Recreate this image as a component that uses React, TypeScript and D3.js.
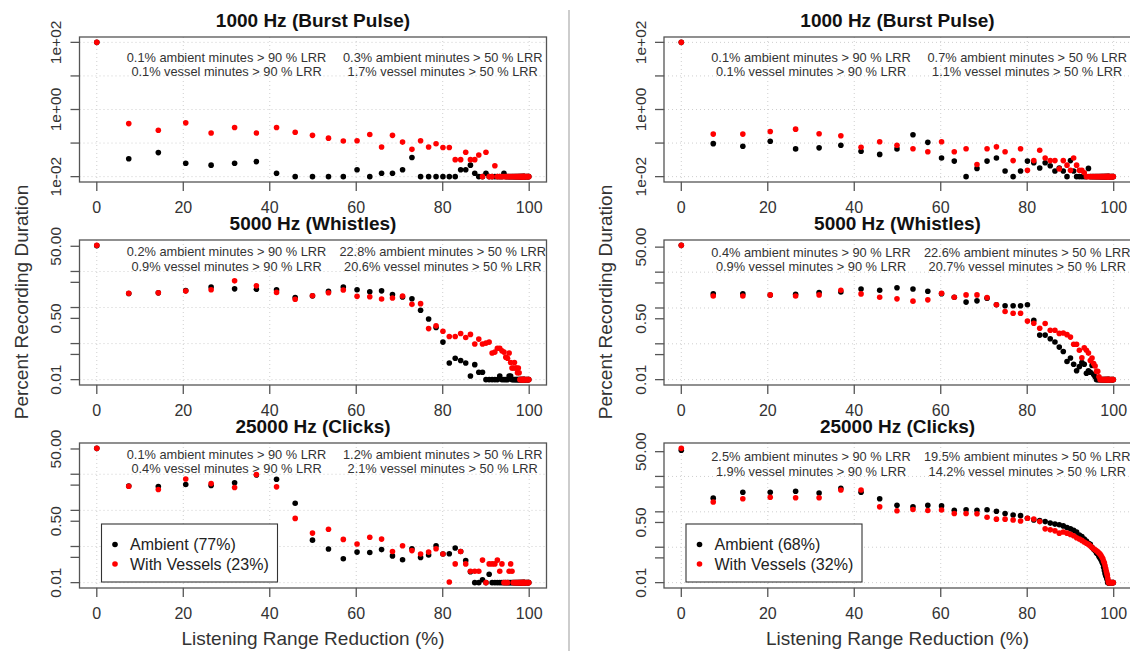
import React from "react";
import * as d3 from "d3";

// LRR bins (%), shared by every series
const lrrBins = [
  0, 7.39, 14.23, 20.57, 26.44, 31.87, 36.9, 41.57, 45.88, 49.88,
  53.58, 57.01, 60.19, 63.13, 65.86, 68.38, 70.71, 72.88, 74.88, 76.74,
  78.46, 80.05, 81.52, 82.89, 84.15, 85.32, 86.41, 87.41, 88.34, 89.2,
  90.0, 90.74, 91.42, 92.06, 92.64, 93.19, 93.69, 94.16, 94.59, 94.99,
  95.36, 95.7, 96.02, 96.31, 96.59, 96.84, 97.07, 97.29, 97.49, 97.67,
  97.85, 98.0, 98.15, 98.29, 98.42, 98.53, 98.64, 98.74, 98.83, 98.92,
  99.0, 99.32, 99.54, 99.78, 99.9,
];

// Left column, 1000 Hz
const burstAmbL = [
  100, 0.034, 0.052, 0.025, 0.022, 0.025, 0.028, 0.0126, 0.01, 0.01,
  0.01, 0.01, 0.016, 0.01, 0.0126, 0.0126, 0.016, 0.037, 0.01, 0.01,
  0.01, 0.01, 0.01, 0.01, 0.016, 0.016, 0.022, 0.0126, 0.01, 0.01,
  0.0126, 0.01, 0.01, 0.01, 0.01, 0.01, 0.01, 0.0126, 0.01, 0.01,
  0.01, 0.01, 0.01, 0.01, 0.01, 0.01, 0.01, 0.01, 0.01, 0.01,
  0.01, 0.01, 0.01, 0.01, 0.01, 0.01, 0.01, 0.01, 0.01, 0.01,
  0.01, 0.01, 0.01, 0.01, 0.01,
];
const burstVesL = [
  100, 0.38, 0.24, 0.4, 0.2, 0.29, 0.2, 0.29, 0.21, 0.17,
  0.14, 0.115, 0.117, 0.18, 0.076, 0.17, 0.107, 0.065, 0.117, 0.076,
  0.095, 0.074, 0.074, 0.032, 0.032, 0.053, 0.032, 0.032, 0.044, 0.01,
  0.053, 0.01, 0.01, 0.021, 0.01, 0.01, 0.01, 0.01, 0.01, 0.01,
  0.01, 0.01, 0.01, 0.01, 0.01, 0.01, 0.01, 0.01, 0.01, 0.01,
  0.01, 0.01, 0.01, 0.01, 0.01, 0.01, 0.01, 0.01, 0.01, 0.01,
  0.01, 0.01, 0.01, 0.01, 0.01,
];
// Left column, 5000 Hz
const whAmbL = [
  52, 2.45, 2.55, 2.95, 3.7, 3.3, 3.2, 3.1, 1.9, 2.1,
  2.8, 3.7, 3.1, 2.75, 2.9, 2.3, 1.96, 1.76, 0.84, 0.48,
  0.28, 0.11, 0.029, 0.039, 0.034, 0.029, 0.0126, 0.026, 0.016, 0.016,
  0.01, 0.01, 0.01, 0.01, 0.01, 0.0126, 0.01, 0.01, 0.01, 0.01,
  0.0126, 0.0126, 0.01, 0.01, 0.01, 0.01, 0.01, 0.01, 0.01, 0.01,
  0.01, 0.01, 0.01, 0.01, 0.01, 0.01, 0.01, 0.01, 0.01, 0.01,
  0.01, 0.01, 0.01, 0.01, 0.01,
];
const whVesL = [
  53, 2.47, 2.58, 2.86, 3.12, 5.5, 4.0, 2.63, 1.69, 2.13,
  2.58, 3.05, 2.04, 2.0, 1.72, 1.84, 2.08, 1.23, 1.28, 0.26,
  0.31, 0.22, 0.157, 0.157, 0.19, 0.148, 0.18, 0.097, 0.133, 0.097,
  0.103, 0.11, 0.055, 0.058, 0.074, 0.074, 0.063, 0.058, 0.042, 0.039,
  0.055, 0.03, 0.021, 0.021, 0.03, 0.021, 0.021, 0.0155, 0.021, 0.0155,
  0.01, 0.01, 0.01, 0.01, 0.01, 0.01, 0.01, 0.01, 0.01, 0.01,
  0.01, 0.01, 0.01, 0.01, 0.01,
];
// Left column, 25000 Hz
const clAmbL = [
  52, 4.7, 4.56, 5.2, 4.9, 5.8, 9.5, 7.3, 1.58, 0.15,
  0.085, 0.046, 0.07, 0.068, 0.082, 0.055, 0.043, 0.087, 0.05, 0.058,
  0.105, 0.062, 0.063, 0.091, 0.073, 0.041, 0.02, 0.01, 0.01, 0.012,
  0.01, 0.017, 0.01, 0.01, 0.01, 0.01, 0.01, 0.01, 0.01, 0.01,
  0.01, 0.01, 0.01, 0.01, 0.01, 0.01, 0.01, 0.01, 0.01, 0.01,
  0.01, 0.01, 0.01, 0.01, 0.01, 0.01, 0.01, 0.01, 0.01, 0.01,
  0.01, 0.01, 0.01, 0.01, 0.01,
];
const clVesL = [
  52, 4.66, 3.78, 7.4, 5.5, 4.3, 9.8, 4.47, 0.6, 0.235,
  0.3, 0.157, 0.117, 0.18, 0.16, 0.073, 0.105, 0.077, 0.062, 0.07,
  0.087, 0.062, 0.0104, 0.033, 0.073, 0.033, 0.0206, 0.0206, 0.0206, 0.042,
  0.01, 0.033, 0.033, 0.033, 0.042, 0.0206, 0.033, 0.01, 0.01, 0.01,
  0.0206, 0.033, 0.0206, 0.01, 0.01, 0.01, 0.01, 0.01, 0.01, 0.01,
  0.01, 0.01, 0.01, 0.01, 0.01, 0.01, 0.01, 0.01, 0.01, 0.01,
  0.01, 0.01, 0.01, 0.01, 0.01,
];
// Right column, 1000 Hz
const burstAmbR = [
  100, 0.096, 0.08, 0.113, 0.067, 0.072, 0.086, 0.057, 0.046, 0.067,
  0.177, 0.105, 0.036, 0.029, 0.01, 0.0176, 0.029, 0.036, 0.0147, 0.01,
  0.0147, 0.029, 0.026, 0.018, 0.026, 0.021, 0.0147, 0.018, 0.0147, 0.01,
  0.03, 0.0147, 0.01, 0.01, 0.01, 0.01, 0.01, 0.0176, 0.01, 0.01,
  0.01, 0.01, 0.01, 0.01, 0.01, 0.01, 0.01, 0.01, 0.01, 0.01,
  0.01, 0.01, 0.01, 0.01, 0.01, 0.01, 0.01, 0.01, 0.01, 0.01,
  0.01, 0.01, 0.01, 0.01, 0.01,
];
const burstVesR = [
  100, 0.185, 0.185, 0.22, 0.26, 0.19, 0.166, 0.075, 0.11, 0.086,
  0.068, 0.055, 0.11, 0.055, 0.068, 0.023, 0.068, 0.077, 0.055, 0.03,
  0.068, 0.0154, 0.03, 0.061, 0.036, 0.03, 0.03, 0.017, 0.03, 0.022,
  0.0154, 0.036, 0.022, 0.0154, 0.0154, 0.013, 0.01, 0.01, 0.01, 0.01,
  0.01, 0.01, 0.01, 0.01, 0.01, 0.01, 0.01, 0.01, 0.01, 0.01,
  0.01, 0.01, 0.01, 0.01, 0.01, 0.01, 0.01, 0.01, 0.01, 0.01,
  0.01, 0.01, 0.01, 0.01, 0.01,
];
// Right column, 5000 Hz
const whAmbR = [
  56, 2.47, 2.47, 2.3, 2.4, 2.69, 2.8, 3.39, 3.12, 3.69,
  3.39, 2.93, 2.5, 2.0, 1.46, 1.58, 1.87, 1.23, 1.15, 1.15,
  1.15, 1.23, 0.45, 0.175, 0.175, 0.139, 0.112, 0.081, 0.061, 0.032,
  0.04, 0.027, 0.0177, 0.023, 0.03, 0.027, 0.015, 0.0177, 0.016, 0.025,
  0.014, 0.012, 0.01, 0.01, 0.01, 0.01, 0.01, 0.01, 0.01, 0.01,
  0.01, 0.01, 0.01, 0.01, 0.01, 0.01, 0.01, 0.01, 0.01, 0.01,
  0.01, 0.01, 0.01, 0.01, 0.01,
];
const whVesR = [
  56, 2.17, 2.17, 2.32, 2.17, 2.32, 3.12, 2.47, 2.0, 1.8,
  1.55, 1.69, 2.58, 2.0, 2.32, 2.32, 1.95, 1.23, 0.8, 0.71,
  0.71, 0.43, 0.375, 0.273, 0.37, 0.24, 0.24, 0.195, 0.2, 0.18,
  0.154, 0.097, 0.097, 0.066, 0.041, 0.078, 0.066, 0.055, 0.034, 0.04,
  0.028, 0.024, 0.017, 0.017, 0.012, 0.01, 0.01, 0.01, 0.01, 0.01,
  0.01, 0.01, 0.01, 0.01, 0.01, 0.01, 0.01, 0.01, 0.01, 0.01,
  0.01, 0.01, 0.01, 0.01, 0.01,
];
// Right column, 25000 Hz
const clAmbR = [
  55, 2.43, 3.56, 3.56, 3.8, 3.4, 4.59, 3.56, 2.33, 1.53,
  1.38, 1.53, 1.47, 1.11, 1.15, 1.11, 1.15, 1.04, 0.9, 0.81,
  0.78, 0.66, 0.59, 0.57, 0.53, 0.48, 0.45, 0.43, 0.4, 0.36,
  0.33, 0.3, 0.27, 0.22, 0.2, 0.17, 0.15, 0.13, 0.12, 0.1,
  0.088, 0.079, 0.069, 0.064, 0.055, 0.05, 0.044, 0.038, 0.034, 0.027,
  0.022, 0.018, 0.016, 0.0146, 0.013, 0.0118, 0.01, 0.01, 0.01, 0.01,
  0.01, 0.01, 0.01, 0.01, 0.01,
];
const clVesR = [
  62, 1.89, 2.33, 2.59, 2.49, 2.49, 4.13, 4.13, 1.38, 1.07,
  1.16, 1.09, 1.13, 0.9, 0.9, 0.88, 0.7, 0.62, 0.62, 0.59,
  0.55, 0.66, 0.63, 0.53, 0.33, 0.31, 0.29, 0.25, 0.27, 0.25,
  0.23, 0.21, 0.185, 0.17, 0.156, 0.14, 0.13, 0.12, 0.109, 0.098,
  0.09, 0.085, 0.079, 0.074, 0.069, 0.064, 0.058, 0.052, 0.047, 0.04,
  0.036, 0.03, 0.025, 0.021, 0.018, 0.016, 0.013, 0.011, 0.01, 0.01,
  0.01, 0.01, 0.01, 0.01, 0.01,
];

const xTicks = [0, 20, 40, 60, 80, 100];
const burstTicks = [0.01, 0.1, 1, 10, 100];
const burstTickLabels = ["1e-02", "", "1e+00", "", "1e+02"];
const otherTicks = [0.01, 0.05, 0.1, 0.5, 1, 5, 10, 50];
const otherTickLabels = ["0.01", "", "", "0.50", "", "", "", "50.00"];

const titles = ["1000 Hz (Burst Pulse)", "5000 Hz (Whistles)", "25000 Hz (Clicks)"];

const notesBurstL = ["0.1% ambient minutes > 90 % LRR", "0.1% vessel minutes > 90 % LRR", "0.3% ambient minutes > 50 % LRR", "1.7% vessel minutes > 50 % LRR"];
const notesWhL = ["0.2% ambient minutes > 90 % LRR", "0.9% vessel minutes > 90 % LRR", "22.8% ambient minutes > 50 % LRR", "20.6% vessel minutes > 50 % LRR"];
const notesClL = ["0.1% ambient minutes > 90 % LRR", "0.4% vessel minutes > 90 % LRR", "1.2% ambient minutes > 50 % LRR", "2.1% vessel minutes > 50 % LRR"];
const notesBurstR = ["0.1% ambient minutes > 90 % LRR", "0.1% vessel minutes > 90 % LRR", "0.7% ambient minutes > 50 % LRR", "1.1% vessel minutes > 50 % LRR"];
const notesWhR = ["0.4% ambient minutes > 90 % LRR", "0.9% vessel minutes > 90 % LRR", "22.6% ambient minutes > 50 % LRR", "20.7% vessel minutes > 50 % LRR"];
const notesClR = ["2.5% ambient minutes > 90 % LRR", "1.9% vessel minutes > 90 % LRR", "19.5% ambient minutes > 50 % LRR", "14.2% vessel minutes > 50 % LRR"];

const legendL = ["Ambient (77%)", "With Vessels (23%)"];
const legendR = ["Ambient (68%)", "With Vessels (32%)"];

// note anchor positions in data units
const noteX = [30, 80];
const noteY = [36, 14];

const xTitle = "Listening Range Reduction (%)";
const yTitle = "Percent Recording Duration";

const W = 1130;
const H = 651;
const colLeft = [79.5, 664];
const rowTop = [37, 240, 443];
const PW = 467;
const PH = 145;
const FONT = "'Liberation Sans', Arial, Helvetica, sans-serif";
const AMB = "#000000";
const VES = "#ff0000";

type PanelProps = {
  col: number;
  row: number;
  amb: number[];
  ves: number[];
  ticks: number[];
  tickLabels: string[];
  notes: string[];
  legend?: string[];
};

function Panel({ col, row, amb, ves, ticks, tickLabels, notes, legend }: PanelProps) {
  const left = colLeft[col];
  const top = rowTop[row];
  const right = left + PW;
  const bottom = top + PH;
  const x = d3.scaleLinear().domain([-4, 104]).range([left, right]);
  const all = amb.concat(ves);
  const lmin = Math.log10(d3.min(all) as number);
  const lmax = Math.log10(d3.max(all) as number);
  const pad = 0.04 * (lmax - lmin);
  const y = d3
    .scaleLog()
    .domain([Math.pow(10, lmin - pad), Math.pow(10, lmax + pad)])
    .range([bottom, top]);
  const decades = d3
    .range(Math.ceil(lmin - pad), Math.floor(lmax + pad) + 1)
    .map((e) => Math.pow(10, e));
  const cx = (left + right) / 2;
  const r = 2.8;
  const lgX = left + 22;
  const lgY = bottom - 6 - 58;
  return (
    <g>
      <text x={cx} y={top - 17} textAnchor="middle" dominantBaseline="central" fontSize={19} fontWeight="bold" fill="#111">
        {titles[row]}
      </text>
      {xTicks.map((t) => (
        <line key={"gx" + t} x1={x(t)} x2={x(t)} y1={top} y2={bottom} stroke="#cfcfcf" strokeWidth={1} strokeDasharray="1,3" />
      ))}
      {decades.map((t) => (
        <line key={"gy" + t} x1={left} x2={right} y1={y(t)} y2={y(t)} stroke="#cfcfcf" strokeWidth={1} strokeDasharray="1,3" />
      ))}
      {amb.map((v, i) => (
        <circle key={"a" + i} cx={x(lrrBins[i])} cy={y(v)} r={r} fill={AMB} />
      ))}
      {ves.map((v, i) => (
        <circle key={"v" + i} cx={x(lrrBins[i])} cy={y(v)} r={r} fill={VES} />
      ))}
      {notes.map((s, i) => (
        <text
          key={"n" + i}
          x={x(noteX[Math.floor(i / 2)])}
          y={y(noteY[i % 2])}
          textAnchor="middle"
          dominantBaseline="central"
          fontSize={12.8}
          fill="#333"
        >
          {s}
        </text>
      ))}
      <rect x={left} y={top} width={PW} height={PH} fill="none" stroke="#555" strokeWidth={1.3} />
      {xTicks.map((t) => (
        <g key={"xt" + t}>
          <line x1={x(t)} x2={x(t)} y1={bottom} y2={bottom + 9} stroke="#555" strokeWidth={1.3} />
          <text x={x(t)} y={bottom + 25} textAnchor="middle" dominantBaseline="central" fontSize={16} fill="#333">
            {t}
          </text>
        </g>
      ))}
      {ticks.map((t, i) => (
        <g key={"yt" + i}>
          <line x1={left - 9} x2={left} y1={y(t)} y2={y(t)} stroke="#555" strokeWidth={1.3} />
          {tickLabels[i] ? (
            <text
              transform={`translate(${left - 24},${y(t)}) rotate(-90)`}
              textAnchor="middle"
              dominantBaseline="central"
              fontSize={15.5}
              fill="#333"
            >
              {tickLabels[i]}
            </text>
          ) : null}
        </g>
      ))}
      {legend ? (
        <g>
          <rect x={lgX} y={lgY} width={176} height={58} fill="#fff" stroke="#333" strokeWidth={1.1} />
          {legend.map((s, i) => (
            <g key={"lg" + i}>
              <circle cx={lgX + 13.5} cy={lgY + 20.5 + i * 19.5} r={r} fill={i === 0 ? AMB : VES} />
              <text x={lgX + 28.5} y={lgY + 20.5 + i * 19.5} dominantBaseline="central" fontSize={16} fill="#222">
                {s}
              </text>
            </g>
          ))}
        </g>
      ) : null}
    </g>
  );
}

export default function App() {
  const panels: PanelProps[] = [
    { col: 0, row: 0, amb: burstAmbL, ves: burstVesL, ticks: burstTicks, tickLabels: burstTickLabels, notes: notesBurstL },
    { col: 0, row: 1, amb: whAmbL, ves: whVesL, ticks: otherTicks, tickLabels: otherTickLabels, notes: notesWhL },
    { col: 0, row: 2, amb: clAmbL, ves: clVesL, ticks: otherTicks, tickLabels: otherTickLabels, notes: notesClL, legend: legendL },
    { col: 1, row: 0, amb: burstAmbR, ves: burstVesR, ticks: burstTicks, tickLabels: burstTickLabels, notes: notesBurstR },
    { col: 1, row: 1, amb: whAmbR, ves: whVesR, ticks: otherTicks, tickLabels: otherTickLabels, notes: notesWhR },
    { col: 1, row: 2, amb: clAmbR, ves: clVesR, ticks: otherTicks, tickLabels: otherTickLabels, notes: notesClR, legend: legendR },
  ];
  return (
    <svg
      width={W}
      height={H}
      viewBox={`0 0 ${W} ${H}`}
      style={{ position: "absolute", left: 0, top: 0, background: "#fff", fontFamily: FONT }}
    >
      <rect x={0} y={0} width={W} height={H} fill="#fff" />
      <line x1={569} x2={569} y1={10} y2={H} stroke="#bdbdbd" strokeWidth={1.5} />
      {panels.map((p, i) => (
        <Panel key={i} {...p} />
      ))}
      {colLeft.map((l, i) => (
        <g key={"ax" + i}>
          <text x={l + PW / 2} y={638} textAnchor="middle" dominantBaseline="central" fontSize={19} fill="#333">
            {xTitle}
          </text>
          <text
            transform={`translate(${l - 58.5},302) rotate(-90)`}
            textAnchor="middle"
            dominantBaseline="central"
            fontSize={19}
            fill="#333"
          >
            {yTitle}
          </text>
        </g>
      ))}
    </svg>
  );
}
